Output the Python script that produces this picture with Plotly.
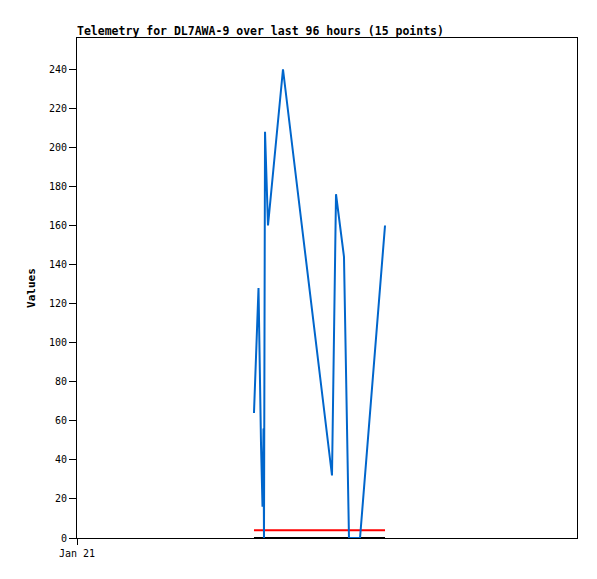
import pandas as pd
import plotly.graph_objects as go

# hours after Jan 21 00:00 for the 15 telemetry points
hours = [33.98, 34.85, 35.33, 35.62, 35.81, 35.9, 36.1, 36.67,
         39.55, 48.96, 49.73, 51.26, 52.22, 54.34, 59.14]
values_blue = [64, 128, 48, 16, 56, 0, 208, 160, 240, 32, 176, 144, 0, 0, 160]
values_red = [4] * 15
values_black = [0] * 15

start = pd.Timestamp("2024-01-21 00:00")
times = [start + pd.Timedelta(hours=h) for h in hours]
x_end = start + pd.Timedelta(hours=96)

FONT = "DejaVu Sans Mono"

fig = go.Figure()
fig.add_trace(go.Scatter(x=times, y=values_black, mode="lines",
                         line=dict(color="black", width=2)))
fig.add_trace(go.Scatter(x=times, y=values_red, mode="lines",
                         line=dict(color="#ff0000", width=2)))
fig.add_trace(go.Scatter(x=times, y=values_blue, mode="lines",
                         line=dict(color="#0066cc", width=2)))

# page body has an 8px margin, so the figure is a bit smaller than the window
W, H = 589, 571
fig.update_layout(
    width=W, height=H,
    margin=dict(l=69, r=20, t=30, b=41),
    paper_bgcolor="white", plot_bgcolor="white",
    showlegend=False,
    font=dict(family=FONT, size=10, color="black"),
    title=dict(text="<b>Telemetry for DL7AWA-9 over last 96 hours (15 points)</b>",
               x=69 / W, xanchor="left", y=1 - 23 / H, yanchor="middle",
               font=dict(family=FONT, size=11.5, color="black")),
)

fig.update_xaxes(
    range=[start, x_end], showgrid=False, zeroline=False,
    showline=True, linecolor="black", linewidth=1, mirror=True,
    ticks="outside", ticklen=6, tickcolor="black",
    tickvals=[start], ticktext=["Jan 21"],
)
fig.update_yaxes(
    range=[0, 256], showgrid=False, zeroline=False,
    showline=True, linecolor="black", linewidth=1, mirror=True,
    ticks="outside", ticklen=7, tickcolor="black",
    tickvals=list(range(0, 241, 20)),
    title=dict(text="<b>Values</b>", standoff=11,
               font=dict(family=FONT, size=11)),
)

fig.write_html("out.html")
